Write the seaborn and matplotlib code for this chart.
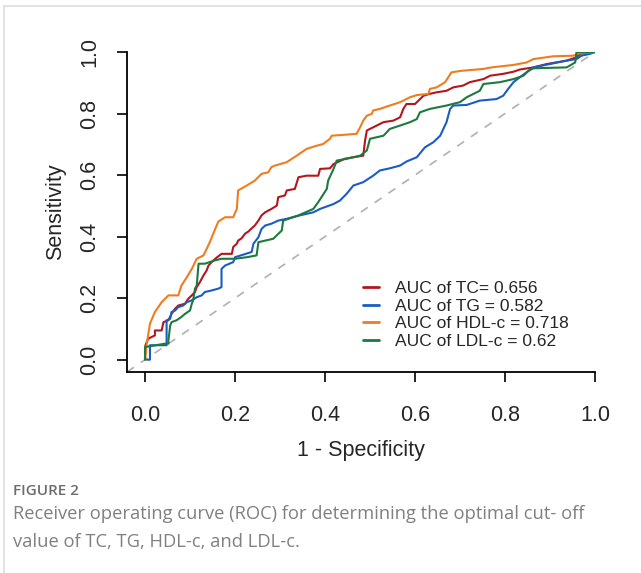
import numpy as np
import pandas as pd
import matplotlib
matplotlib.use("Agg")
import matplotlib.pyplot as plt
from matplotlib.lines import Line2D
import seaborn as sns

# ROC curve points (1 - specificity, sensitivity)
tc_fpr = [0, 0.001, 0.007, 0.022, 0.022, 0.037, 0.041, 0.052, 0.059, 0.067, 0.074, 0.089, 0.096, 0.104,
          0.111, 0.115, 0.122, 0.130, 0.137, 0.141, 0.148, 0.156, 0.170, 0.193, 0.196, 0.204, 0.207, 0.215,
          0.222, 0.230, 0.237, 0.244, 0.252, 0.259, 0.267, 0.281, 0.293, 0.296, 0.311, 0.315, 0.333, 0.341,
          0.359, 0.385, 0.389, 0.411, 0.419, 0.444, 0.463, 0.485, 0.489, 0.493, 0.515, 0.530, 0.552, 0.567,
          0.574, 0.581, 0.600, 0.619, 0.633, 0.648, 0.670, 0.685, 0.707, 0.722, 0.752, 0.767, 0.796, 0.819,
          0.833, 0.863, 0.893, 0.937, 0.959, 0.967, 1.0]
tc_tpr = [0, 0.047, 0.068, 0.079, 0.095, 0.095, 0.122, 0.128, 0.149, 0.166, 0.176, 0.182, 0.198, 0.209,
          0.220, 0.236, 0.252, 0.274, 0.290, 0.306, 0.317, 0.328, 0.344, 0.344, 0.366, 0.377, 0.387, 0.395,
          0.409, 0.417, 0.427, 0.436, 0.452, 0.469, 0.479, 0.490, 0.501, 0.528, 0.534, 0.550, 0.555, 0.593,
          0.598, 0.598, 0.620, 0.622, 0.636, 0.653, 0.658, 0.663, 0.712, 0.745, 0.761, 0.772, 0.777, 0.788,
          0.815, 0.831, 0.831, 0.858, 0.864, 0.869, 0.874, 0.885, 0.891, 0.902, 0.912, 0.923, 0.929, 0.936,
          0.943, 0.950, 0.961, 0.972, 0.983, 0.994, 1.0]

tg_fpr = [0.004, 0.011, 0.011, 0.048, 0.048, 0.056, 0.059, 0.067, 0.074, 0.085, 0.093, 0.104, 0.115, 0.126,
          0.133, 0.148, 0.163, 0.170, 0.170, 0.178, 0.196, 0.200, 0.237, 0.241, 0.252, 0.259, 0.267, 0.281,
          0.296, 0.315, 0.344, 0.374, 0.389, 0.419, 0.433, 0.448, 0.463, 0.485, 0.507, 0.522, 0.544, 0.567,
          0.581, 0.604, 0.622, 0.641, 0.656, 0.663, 0.670, 0.678, 0.685, 0.715, 0.744, 0.781, 0.796, 0.807,
          0.819, 0.833, 0.848, 0.863, 0.900, 0.937, 0.959, 0.970, 0.989, 1.0]
tg_tpr = [0, 0, 0.047, 0.047, 0.128, 0.133, 0.155, 0.160, 0.171, 0.176, 0.187, 0.193, 0.203, 0.209,
          0.220, 0.225, 0.231, 0.236, 0.295, 0.306, 0.317, 0.333, 0.350, 0.377, 0.398, 0.425, 0.436, 0.442,
          0.452, 0.458, 0.469, 0.479, 0.490, 0.506, 0.517, 0.539, 0.566, 0.577, 0.598, 0.615, 0.622, 0.631,
          0.644, 0.658, 0.690, 0.707, 0.728, 0.750, 0.772, 0.815, 0.826, 0.828, 0.842, 0.847, 0.858, 0.880,
          0.902, 0.918, 0.934, 0.950, 0.961, 0.972, 0.977, 0.988, 0.994, 1.0]

hdl_fpr = [0, 0.004, 0.011, 0.022, 0.037, 0.052, 0.074, 0.081, 0.093, 0.104, 0.115, 0.130, 0.137, 0.144,
           0.156, 0.163, 0.178, 0.196, 0.204, 0.207, 0.226, 0.244, 0.259, 0.274, 0.281, 0.289, 0.315, 0.337,
           0.359, 0.378, 0.396, 0.411, 0.415, 0.444, 0.470, 0.478, 0.485, 0.493, 0.504, 0.507, 0.522, 0.544,
           0.567, 0.589, 0.604, 0.630, 0.633, 0.648, 0.667, 0.674, 0.681, 0.704, 0.752, 0.770, 0.819, 0.848,
           0.863, 0.907, 0.952, 0.967, 1.0]
hdl_tpr = [0, 0.052, 0.117, 0.155, 0.187, 0.209, 0.209, 0.241, 0.268, 0.295, 0.328, 0.339, 0.360, 0.382,
           0.425, 0.449, 0.463, 0.463, 0.490, 0.550, 0.566, 0.582, 0.604, 0.609, 0.626, 0.631, 0.642, 0.663,
           0.685, 0.694, 0.701, 0.718, 0.728, 0.731, 0.734, 0.755, 0.777, 0.793, 0.799, 0.810, 0.815, 0.826,
           0.837, 0.853, 0.860, 0.864, 0.880, 0.885, 0.902, 0.918, 0.934, 0.939, 0.945, 0.950, 0.958, 0.966,
           0.977, 0.986, 0.988, 0.997, 1.0]

ldl_fpr = [0, 0, 0.044, 0.052, 0.052, 0.056, 0.059, 0.070, 0.081, 0.089, 0.100, 0.104, 0.107, 0.111,
           0.115, 0.119, 0.133, 0.156, 0.170, 0.200, 0.226, 0.248, 0.252, 0.285, 0.304, 0.307, 0.341, 0.374,
           0.385, 0.404, 0.407, 0.419, 0.426, 0.448, 0.478, 0.493, 0.500, 0.530, 0.544, 0.567, 0.589, 0.604,
           0.611, 0.633, 0.670, 0.700, 0.715, 0.744, 0.752, 0.789, 0.819, 0.841, 0.852, 0.863, 0.937, 0.956,
           0.959, 1.0]
ldl_tpr = [0, 0.041, 0.052, 0.052, 0.063, 0.111, 0.122, 0.128, 0.139, 0.149, 0.160, 0.182, 0.193, 0.231,
           0.241, 0.312, 0.312, 0.323, 0.328, 0.328, 0.333, 0.339, 0.382, 0.393, 0.420, 0.452, 0.469, 0.490,
           0.512, 0.555, 0.582, 0.620, 0.647, 0.653, 0.663, 0.680, 0.718, 0.728, 0.750, 0.761, 0.772, 0.782,
           0.804, 0.815, 0.826, 0.837, 0.853, 0.874, 0.896, 0.902, 0.912, 0.923, 0.939, 0.947, 0.950, 0.966,
           1.0, 1.0]

labels = ["AUC of TC= 0.656", "AUC of TG = 0.582", "AUC of HDL-c = 0.718", "AUC of LDL-c = 0.62"]
colors = ["#b5161e", "#1a5cc4", "#ee7d1f", "#1d7a3c"]
ticks = [0.0, 0.2, 0.4, 0.6, 0.8, 1.0]

df = pd.concat([
    pd.DataFrame({"fpr": tc_fpr, "tpr": tc_tpr, "curve": labels[0]}),
    pd.DataFrame({"fpr": tg_fpr, "tpr": tg_tpr, "curve": labels[1]}),
    pd.DataFrame({"fpr": hdl_fpr, "tpr": hdl_tpr, "curve": labels[2]}),
    pd.DataFrame({"fpr": ldl_fpr, "tpr": ldl_tpr, "curve": labels[3]}),
], ignore_index=True)

sns.set_style("white")
plt.rcParams['font.family'] = ['Liberation Sans', 'DejaVu Sans']

fig = plt.figure(figsize=(6.41, 5.73), dpi=100)
ax = fig.add_axes([127 / 641, 1 - 372 / 573, 468 / 641, 320 / 573])

# chance line
ax.axline((0, 0), slope=1, color="#b0b0b0", lw=1.2, ls=(0, (5, 5)), zorder=1)

sns.lineplot(data=df, x="fpr", y="tpr", hue="curve", hue_order=labels, palette=colors,
             sort=False, estimator=None, lw=1.5, ax=ax, legend=False)

ax.set_xlim(-0.04, 1.0)
ax.set_ylim(-0.04, 1.0)
ax.set_xticks(ticks)
ax.set_yticks(ticks)
ax.set_xticklabels([f"{t:.1f}" for t in ticks])
ax.set_yticklabels([f"{t:.1f}" for t in ticks], rotation=90, va="center")
ax.tick_params(direction="out", length=7.5, width=1.2, color="black", labelsize=15.5,
               bottom=True, left=True)
ax.tick_params(axis="x", pad=16)
ax.tick_params(axis="y", pad=12)
for s in ["top", "right"]:
    ax.spines[s].set_visible(False)
for s in ["left", "bottom"]:
    ax.spines[s].set_color("black")
    ax.spines[s].set_linewidth(1.3)
ax.set_xlabel("1 - Specificity", fontsize=15.5, labelpad=10)
ax.set_ylabel("Sensitivity", fontsize=15.5, labelpad=9)

handles = [Line2D([], [], color=c, lw=2) for c in colors]
ax.legend(handles, labels, loc="upper left", bbox_to_anchor=(0.504, 0.285), frameon=False,
          fontsize=12.5, borderpad=0, borderaxespad=0, labelspacing=0.15,
          handlelength=0.95, handletextpad=0.9)

# caption
cap_font = ["Open Sans", "DejaVu Sans"]
fig.text(13 / 641, 0.1361, "FIGURE 2", fontsize=11, color="#6d6d6d", fontweight="semibold",
         family=cap_font, va="baseline")
fig.text(13 / 641, 0.0942, "Receiver operating curve (ROC) for determining the optimal cut- off",
         fontsize=13.2, color="#808080", family=cap_font, va="baseline")
fig.text(13 / 641, 0.0454, "value of TC, TG, HDL-c, and LDL-c.",
         fontsize=13.2, color="#808080", family=cap_font, va="baseline")

# panel border (top and left edges)
fig.add_artist(Line2D([4 / 641, 1], [1 - 6 / 573] * 2, color="#dddddd", lw=1.2, transform=fig.transFigure))
fig.add_artist(Line2D([4 / 641] * 2, [0, 1 - 6 / 573], color="#dddddd", lw=1.2, transform=fig.transFigure))

fig.savefig("out.png", dpi=100)
